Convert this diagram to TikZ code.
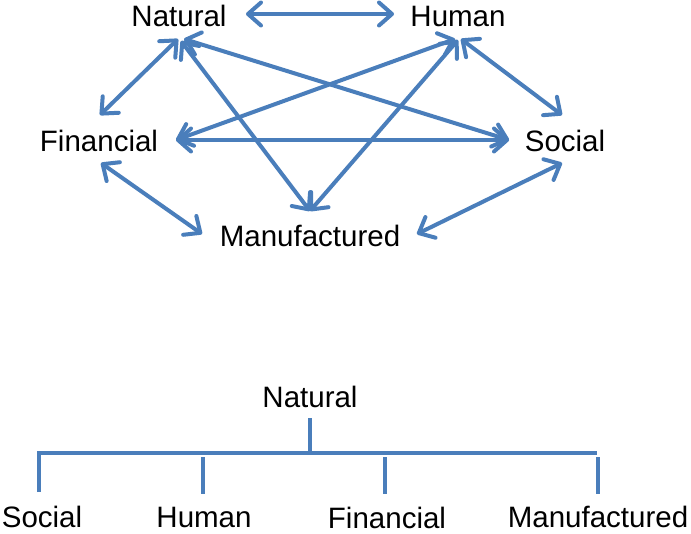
\documentclass[tikz,border=0pt]{standalone}
\usepackage{fontspec}
\setmainfont{Liberation Sans}
\usetikzlibrary{arrows.meta}
\definecolor{linkblue}{HTML}{4A7EBB}
\begin{document}
\begin{tikzpicture}[x=1pt,y=-1pt,
  lbl/.style={anchor=base,inner sep=0pt,font=\fontsize{29.5}{29.5}\selectfont},
  link/.style={draw=linkblue,line width=4pt,line cap=round,
    {Straight Barb[length=13pt,width=23pt,round]}-{Straight Barb[length=13pt,width=23pt,round]}},
  branch/.style={draw=linkblue,line width=3.4pt}]
\useasboundingbox (0,0) rectangle (691,533);
% top network
\node[lbl] (nat) at (179,26) {Natural};
\node[lbl] (hum) at (458,26) {Human};
\node[lbl] (fin) at (99,151) {Financial};
\node[lbl] (soc) at (565,151) {Social};
\node[lbl] (man) at (310,246) {Manufactured};
% connector ends
\coordinate (natR) at (246,14);
\coordinate (humL) at (394,14);
\coordinate (natF) at (178,39);
\coordinate (natM) at (181,41);
\coordinate (natS) at (184,39);
\coordinate (humF) at (455,39);
\coordinate (humM) at (458,40);
\coordinate (humS) at (461,39);
\coordinate (finU) at (100,115);
\coordinate (finR) at (176,140);
\coordinate (finD) at (101,163);
\coordinate (socU) at (562,115);
\coordinate (socL) at (509,140);
\coordinate (socD) at (562,163);
\coordinate (manU) at (310,211);
\coordinate (manL) at (202,234);
\coordinate (manR) at (417,234);
\draw[link] (natR) -- (humL);
\draw[link] (natF) -- (finU);
\draw[link] (natS) -- (socL);
\draw[link] (natM) -- (manU);
\draw[link] (humF) -- (finR);
\draw[link] (humM) -- (manU);
\draw[link] (humS) -- (socU);
\draw[link] (finR) -- (socL);
\draw[link] (finD) -- (manL);
\draw[link] (socD) -- (manR);
% bottom tree
\node[lbl] (bnat) at (310,407) {Natural};
\node[lbl] (bsoc) at (42,527) {Social};
\node[lbl] (bhum) at (204,527) {Human};
\node[lbl] (bfin) at (387,528) {Financial};
\node[lbl] (bman) at (598,527) {Manufactured};
\coordinate (rootB) at (310,418);
\coordinate (rootJ) at (310,455);
\coordinate (barL) at (39,453);
\coordinate (barR) at (597,453);
\coordinate (socT) at (39,492);
\coordinate (humT0) at (203,457);
\coordinate (humT) at (203,494);
\coordinate (finT0) at (385,457);
\coordinate (finT) at (385,494);
\coordinate (manT0) at (598,457);
\coordinate (manT) at (598,494);
\draw[branch] (rootB) -- (rootJ);
\draw[branch] (socT) -- (barL) -- (barR);
\draw[branch] (humT0) -- (humT);
\draw[branch] (finT0) -- (finT);
\draw[branch] (manT0) -- (manT);
\end{tikzpicture}
\end{document}
